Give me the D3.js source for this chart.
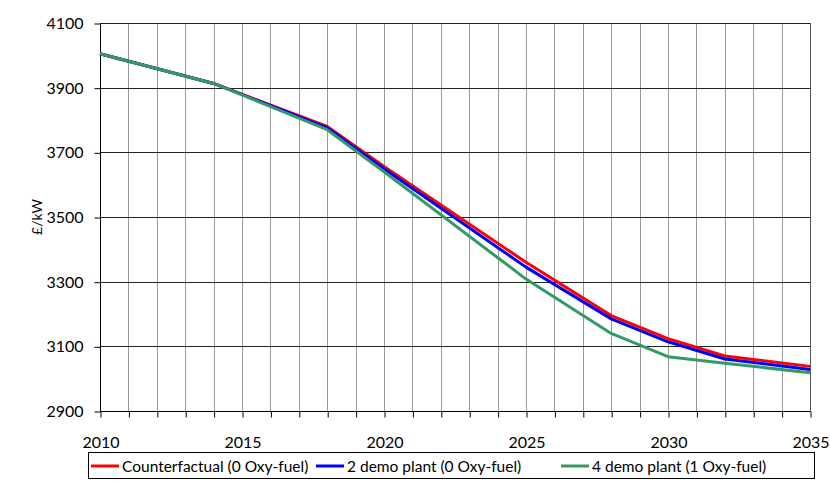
<!DOCTYPE html>
<html>
<head>
<meta charset="utf-8">
<script src="https://cdn.jsdelivr.net/npm/d3@7"></script>
<style>
  html, body { margin: 0; padding: 0; background: #fff; }
  svg { display: block; }
  text { font-family: "Lato", "Open Sans", sans-serif; fill: #000; }
</style>
</head>
<body>
<svg id="chart" width="830" height="503"></svg>
<script>
// Capital cost projections (£/kW) by year
const years = [2010, 2014, 2018, 2020, 2025, 2028, 2030, 2032, 2035];
const counterfactual = [4005, 3913, 3780, 3656, 3360, 3195, 3124, 3070, 3038];
const demo2 = [4005, 3913, 3776, 3649, 3345, 3185, 3114, 3061, 3028];
const demo4 = [4005, 3913, 3770, 3640, 3308, 3140, 3068, 3048, 3018];

const seriesNames = [
  "Counterfactual (0 Oxy-fuel)",
  "2 demo plant (0 Oxy-fuel)",
  "4 demo plant (1 Oxy-fuel)"
];
const seriesColors = ["#ff0000", "#0000ff", "#339966"];
const seriesValues = [counterfactual, demo2, demo4];

const yTicks = [2900, 3100, 3300, 3500, 3700, 3900, 4100];
const xLabelTicks = [2010, 2015, 2020, 2025, 2030, 2035];

const svg = d3.select("#chart");
const plotLeft = 100, plotRight = 810, plotTop = 23, plotBottom = 411;

const x = d3.scaleLinear().domain([2010, 2035]).range([plotLeft, plotRight]);
const y = d3.scaleLinear().domain([2900, 4100]).range([plotBottom, plotTop]);

// vertical grid: one line per year
const everyYear = d3.range(2011, 2036);
svg.append("g")
  .selectAll("line")
  .data(everyYear)
  .join("line")
  .attr("x1", d => Math.round(x(d)) + 0.5)
  .attr("x2", d => Math.round(x(d)) + 0.5)
  .attr("y1", plotTop)
  .attr("y2", plotBottom)
  .attr("stroke", d => d === 2035 ? "#555" : "#9a9a9a")
  .attr("stroke-width", 1);

// horizontal grid at each labelled value
svg.append("g")
  .selectAll("line")
  .data(yTicks)
  .join("line")
  .attr("x1", plotLeft)
  .attr("x2", plotRight)
  .attr("y1", d => Math.round(y(d)) + 0.5)
  .attr("y2", d => Math.round(y(d)) + 0.5)
  .attr("stroke", "#222")
  .attr("stroke-width", 1);

// y axis
const yAxis = d3.axisLeft(y).tickValues(yTicks).tickSize(6).tickPadding(11).tickFormat(d3.format("d"));
const gy = svg.append("g").attr("transform", `translate(${plotLeft + 0.5},0.5)`).call(yAxis);
gy.select(".domain").attr("stroke", "#000").attr("d", `M0,${plotTop}V${plotBottom}`);
gy.selectAll(".tick line").attr("stroke", "#000");
gy.selectAll(".tick text").style("font-size", "16px").attr("fill", "#000");

// x axis: tick on every year, labels every five
const xAxis = d3.axisBottom(x).tickValues(d3.range(2010, 2036)).tickSize(6).tickPadding(19)
  .tickFormat(d => xLabelTicks.includes(d) ? String(d) : "");
const gx = svg.append("g").attr("transform", `translate(0.5,${Math.round(y(2900)) + 0.5})`).call(xAxis);
gx.select(".domain").attr("stroke", "#000").attr("d", `M${plotLeft},0H${plotRight}`);
gx.selectAll(".tick line").attr("stroke", "#000");
gx.selectAll(".tick text").style("font-size", "16px").attr("fill", "#000");

// y axis title
svg.append("text")
  .attr("transform", `translate(42,${(plotTop + plotBottom) / 2}) rotate(-90)`)
  .attr("text-anchor", "middle")
  .style("font-size", "14px")
  .text("£/kW");

// series lines
const line = d3.line()
  .x((d, i) => x(years[i]))
  .y(d => y(d));

svg.append("g")
  .selectAll("path")
  .data(seriesValues)
  .join("path")
  .attr("d", d => line(d))
  .attr("fill", "none")
  .attr("stroke", (d, i) => seriesColors[i])
  .attr("stroke-width", 3)
  .attr("stroke-linejoin", "round");

// legend
const legend = svg.append("g");
legend.append("rect")
  .attr("x", 88.5).attr("y", 452.5)
  .attr("width", 726).attr("height", 26)
  .attr("fill", "#fff").attr("stroke", "#000").attr("stroke-width", 1);

const itemX = [91, 316, 561];
seriesNames.forEach((name, i) => {
  legend.append("line")
    .attr("x1", itemX[i]).attr("x2", itemX[i] + 28)
    .attr("y1", 466).attr("y2", 466)
    .attr("stroke", seriesColors[i]).attr("stroke-width", 3);
  legend.append("text")
    .attr("x", itemX[i] + 31).attr("y", 471.5)
    .style("font-size", "15.5px")
    .text(name);
});
</script>
</body>
</html>
